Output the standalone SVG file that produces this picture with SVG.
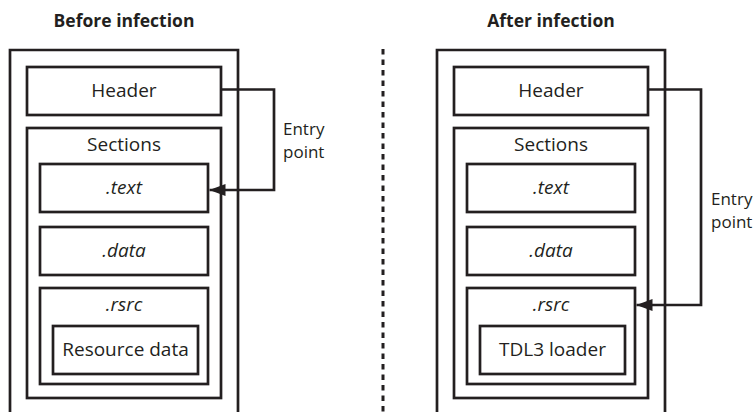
<svg xmlns="http://www.w3.org/2000/svg" width="756" height="412" viewBox="0 0 756 412">
  <defs>
    <style>
      .box { fill: none; stroke: #231f20; stroke-width: 2.7; }
      .wire { fill: none; stroke: #231f20; stroke-width: 2.7; }
      .lbl { font-family: "Open Sans", "Liberation Sans", sans-serif; font-size: 19px; fill: #231f20; text-anchor: middle; }
      .it { font-style: italic; }
      .title { font-family: "Open Sans", "Liberation Sans", sans-serif; font-size: 17.5px; font-weight: bold; fill: #231f20; text-anchor: middle; }
      .ep { font-family: "Open Sans", "Liberation Sans", sans-serif; font-size: 17px; fill: #231f20; }
    </style>
    <marker id="arrow" markerWidth="16" markerHeight="12" refX="16" refY="6" orient="auto" markerUnits="userSpaceOnUse">
      <path d="M0,0 L16,6 L0,12 Z" fill="#231f20"/>
    </marker>
  </defs>

  <rect width="756" height="412" fill="#ffffff"/>

  <text class="title" x="124" y="27">Before infection</text>
  <text class="title" x="551" y="27">After infection</text>

  <line x1="383" y1="49" x2="383" y2="412" stroke="#231f20" stroke-width="3" stroke-dasharray="5.5 5"/>

  <g id="before">
    <g id="before-file"><path class="box" d="M10,414 V50 H238 V414"/></g>
    <g id="before-header"><rect class="box" x="27" y="67" width="194" height="48"/><text class="lbl" x="124" y="97">Header</text></g>
    <g id="before-sections"><rect class="box" x="27" y="128" width="194" height="270"/><text class="lbl" x="124" y="151">Sections</text></g>
    <g id="before-text"><rect class="box" x="40" y="164" width="168" height="48"/><text class="lbl it" x="124" y="194">.text</text></g>
    <g id="before-data"><rect class="box" x="40" y="227" width="168" height="48"/><text class="lbl it" x="124" y="257">.data</text></g>
    <g id="before-rsrc"><rect class="box" x="40" y="288" width="168" height="96"/><text class="lbl it" x="124" y="311">.rsrc</text></g>
    <g id="before-resource"><rect class="box" x="53" y="326" width="145" height="48"/><text class="lbl" x="125.5" y="356">Resource data</text></g>
  </g>

  <g id="after">
    <g id="after-file"><path class="box" d="M437,414 V50 H665 V414"/></g>
    <g id="after-header"><rect class="box" x="454" y="67" width="194" height="48"/><text class="lbl" x="551" y="97">Header</text></g>
    <g id="after-sections"><rect class="box" x="454" y="128" width="194" height="270"/><text class="lbl" x="551" y="151">Sections</text></g>
    <g id="after-text"><rect class="box" x="467" y="164" width="168" height="48"/><text class="lbl it" x="551" y="194">.text</text></g>
    <g id="after-data"><rect class="box" x="467" y="227" width="168" height="48"/><text class="lbl it" x="551" y="257">.data</text></g>
    <g id="after-rsrc"><rect class="box" x="467" y="288" width="168" height="96"/><text class="lbl it" x="551" y="311">.rsrc</text></g>
    <g id="after-loader"><rect class="box" x="480" y="326" width="145" height="48"/><text class="lbl" x="552.5" y="356">TDL3 loader</text></g>
  </g>

  <g id="connectors">
    <path class="wire" d="M221,89.5 H274 V190 H209.5" marker-end="url(#arrow)"/>
    <text class="ep" x="283" y="135">Entry</text>
    <text class="ep" x="283" y="158">point</text>
    <path class="wire" d="M648,89.5 H701 V305 H636.5" marker-end="url(#arrow)"/>
    <text class="ep" x="711" y="205">Entry</text>
    <text class="ep" x="711" y="228">point</text>
  </g>
</svg>
